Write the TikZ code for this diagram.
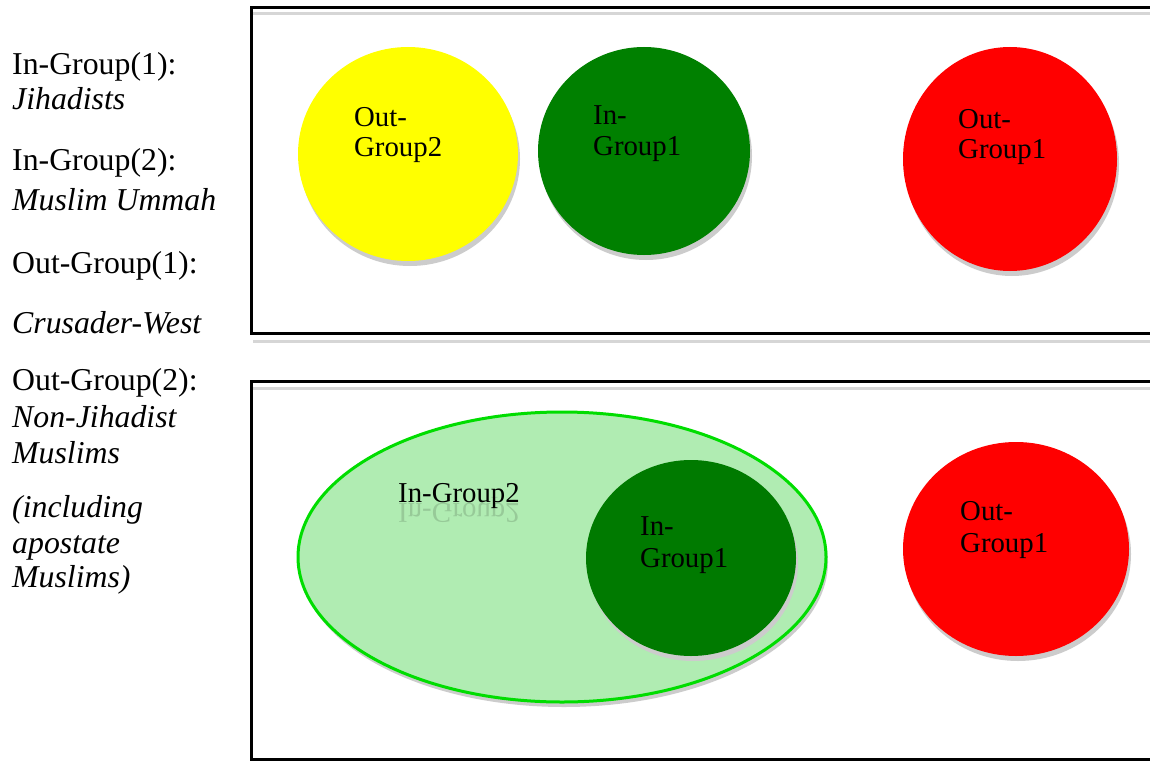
\documentclass[tikz,border=0pt]{standalone}
\usepackage{fontspec}
\setmainfont{Liberation Serif}
\usetikzlibrary{shapes.geometric,shadows}
\definecolor{ygold}{HTML}{FFFF00}
\definecolor{ingreen}{HTML}{008000}
\definecolor{ingreenb}{HTML}{007A00}
\definecolor{outred}{HTML}{FF0000}
\definecolor{paleg}{HTML}{B0ECB2}
\definecolor{brightg}{HTML}{00DD00}
\tikzset{
  side/.style={anchor=base west, inner sep=0pt, font=\fontsize{31.8}{38}\selectfont},
  lab/.style={anchor=base west, inner sep=0pt, font=\fontsize{28.8}{34}\selectfont},
  blob/.style={ellipse, inner sep=0pt, outer sep=0pt,
    drop shadow={shadow xshift=2pt, shadow yshift=-5pt, fill=black!20, opacity=1}},
  frame/.style={line width=3pt},
  frameshade/.style={line width=3pt, black!16},
}
\begin{document}
\begin{tikzpicture}[x=1pt,y=-1pt]
\useasboundingbox (0,0) rectangle (1150,762);
\clip (0,0) rectangle (1150,762);
\fill[white] (0,0) rectangle (1150,762);

% left legend
\node[side] (t1) at (12,75) {In-Group(1):};
\node[side] (t2) at (12,110) {\itshape Jihadists};
\node[side] (t3) at (12,171) {In-Group(2):};
\node[side] (t4) at (12,210) {\itshape Muslim Ummah};
\node[side] (t5) at (12,273) {Out-Group(1):};
\node[side] (t6) at (12,333) {\itshape Crusader-West};
\node[side] (t7) at (12,390) {Out-Group(2):};
\node[side] (t8) at (12,427) {\itshape Non-Jihadist};
\node[side] (t9) at (12,463) {\itshape Muslims};
\node[side] (t10) at (12,517) {\itshape (including};
\node[side] (t11) at (12,553) {\itshape apostate};
\node[side] (t12) at (12,587) {\itshape Muslims)};

% top box
\draw[frameshade] (253,14) -- (1170,14);
\draw[frameshade] (253,341) -- (1170,341);
\draw[frame] (251,8) rectangle (1170,333);

\node[blob, fill=ygold, minimum width=220pt, minimum height=214pt] (og2) at (408,154) {};
\node[blob, fill=ingreen, minimum width=212pt, minimum height=208pt] (ig1) at (644,151) {};
\node[blob, fill=outred, minimum width=214pt, minimum height=224pt] (og1) at (1010,159) {};

\node[lab] (og2a) at (354,127) {Out-};
\node[lab] (og2b) at (354,157) {Group2};
\node[lab] (ig1a) at (593,125) {In-};
\node[lab] (ig1b) at (593,156) {Group1};
\node[lab] (og1a) at (958,129) {Out-};
\node[lab] (og1b) at (958,159) {Group1};

% bottom box
\draw[frameshade] (253,388) -- (1170,388);
\draw[frame] (251,381) rectangle (1170,759);

\node[blob, fill=paleg, draw=brightg, line width=3pt, minimum width=528pt, minimum height=290pt] (ig2) at (562,557) {};
\node[blob, fill=ingreenb, minimum width=210pt, minimum height=196pt] (ig1n) at (691,558) {};
\node[blob, fill=outred, minimum width=226pt, minimum height=214pt] (og1n) at (1016,549) {};

\node[lab, yscale=-1, anchor=base west, text=black, opacity=0.14] (ig2r) at (398,503) {In-Group2};
\node[lab] (ig2t) at (398,502) {In-Group2};
\node[lab] (ig1na) at (640,535) {In-};
\node[lab] (ig1nb) at (640,567) {Group1};
\node[lab] (og1na) at (960,520) {Out-};
\node[lab] (og1nb) at (960,552) {Group1};
\end{tikzpicture}
\end{document}
